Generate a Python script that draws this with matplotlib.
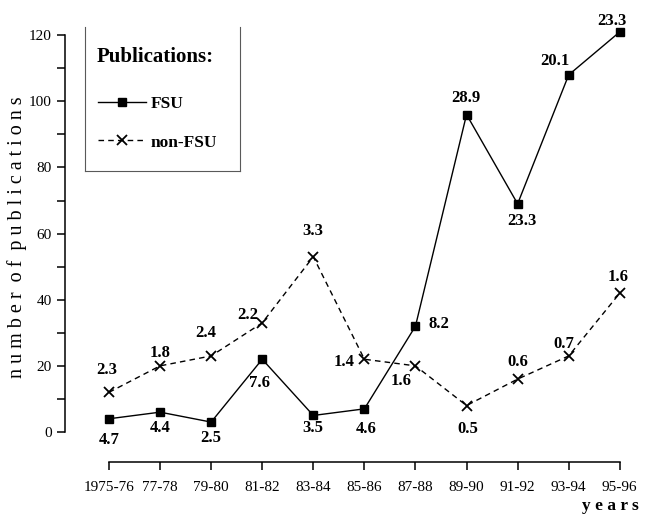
import numpy as np
import matplotlib
matplotlib.use("Agg")
import matplotlib.pyplot as plt
from matplotlib.lines import Line2D

plt.rcParams['font.family'] = ['Liberation Serif', 'DejaVu Serif']

# data
periods = ['1975-76', '77-78', '79-80', '81-82', '83-84', '85-86',
           '87-88', '89-90', '91-92', '93-94', '95-96']
fsu = [4, 6, 3, 22, 5, 7, 32, 96, 69, 108, 121]
non_fsu = [12, 20, 23, 33, 53, 22, 20, 8, 16, 23, 42]
fsu_share = ['4.7', '4.4', '2.5', '7.6', '3.5', '4.6', '8.2', '28.9', '23.3', '20.1', '23.3']
non_fsu_share = ['2.3', '1.8', '2.4', '2.2', '3.3', '1.4', '1.6', '0.5', '0.6', '0.7', '1.6']

# label offsets in pixels (dx, dy) from each point
fsu_off = [(0, -21), (0, -16), (0, -16), (-3, -24), (0, -13), (2, -20),
           (23, 2), (-1, 17), (4, -17), (-14, 14), (-8, 11)]
non_off = [(-2, 22), (0, 13), (-5, 23), (-14, 8), (0, 26), (-20, -3),
           (-14, -15), (1, -23), (0, 17), (-5, 12), (-2, 16)]

W, H = 645, 515
fig = plt.figure(figsize=(W / 100, H / 100), dpi=100)
ax = fig.add_axes([65 / W, 1 - 432 / H, (630 - 65) / W, (432 - 18) / H])

x = np.arange(len(periods))
l1, = ax.plot(x, fsu, '-', color='black', lw=1.0, marker='s', ms=6,
              label='FSU')
l2, = ax.plot(x, non_fsu, '--', color='black', lw=1.0, marker='x', ms=7,
              mew=1.3, dashes=(4, 3), label='non-FSU')

for xi, v, s, (dx, dy) in zip(x, fsu, fsu_share, fsu_off):
    ax.annotate(s, (xi, v), xytext=(dx, dy), textcoords='offset pixels',
                ha='center', va='center', fontsize=12, fontweight='bold')
for xi, v, s, (dx, dy) in zip(x, non_fsu, non_fsu_share, non_off):
    ax.annotate(s, (xi, v), xytext=(dx, dy), textcoords='offset pixels',
                ha='center', va='center', fontsize=12, fontweight='bold')

ax.set_xlim(-0.861, 10.2)
ax.set_ylim(0, 125.2)
ax.set_yticks(np.arange(0, 121, 20))
ax.set_yticks(np.arange(10, 120, 20), minor=True)
ax.set_xticks(x)
ax.set_xticklabels(periods)

for side in ['top', 'right']:
    ax.spines[side].set_visible(False)
ax.spines['left'].set_bounds(0, 120)
ax.spines['bottom'].set_bounds(0, 10)
ax.spines['bottom'].set_position(('outward', 21.6))
ax.spines['left'].set_linewidth(1.1)
ax.spines['bottom'].set_linewidth(1.1)
ax.tick_params(axis='both', which='both', direction='out', length=5.5,
               width=1.1, labelsize=11)
ax.tick_params(axis='x', pad=8)
ax.tick_params(axis='y', pad=4)

ax.set_ylabel('n u m b e r  o f  p u b l i c a t i o n s', fontsize=14.5)
ax.yaxis.set_label_coords(-0.068, 0.47)
fig.text(639 / W, 1 - 506 / H, 'y e a r s', ha='right', va='center',
         fontsize=12.5, fontweight='bold')

# legend: title as plain text, entries below it
fig.text(97 / W, 1 - 57 / H, 'Publications:', ha='left', va='center',
         fontsize=15, fontweight='bold')
leg = ax.legend(handles=[l1, l2], loc='upper left',
                bbox_to_anchor=(89 / W, 1 - 87 / H), bbox_transform=fig.transFigure,
                frameon=False, fontsize=12.5, handlelength=2.76,
                handletextpad=0.3, labelspacing=1.3, borderpad=0,
                numpoints=1)
for t in leg.get_texts():
    t.set_fontweight('bold')

# open-topped legend box
box = dict(color='0.35', lw=0.8, transform=fig.transFigure)
fig.add_artist(Line2D([85 / W, 85 / W], [1 - 27 / H, 1 - 171 / H], **box))
fig.add_artist(Line2D([240 / W, 240 / W], [1 - 27 / H, 1 - 171 / H], **box))
fig.add_artist(Line2D([85 / W, 240 / W], [1 - 171 / H, 1 - 171 / H], **box))

fig.savefig('out.png', dpi=100)
